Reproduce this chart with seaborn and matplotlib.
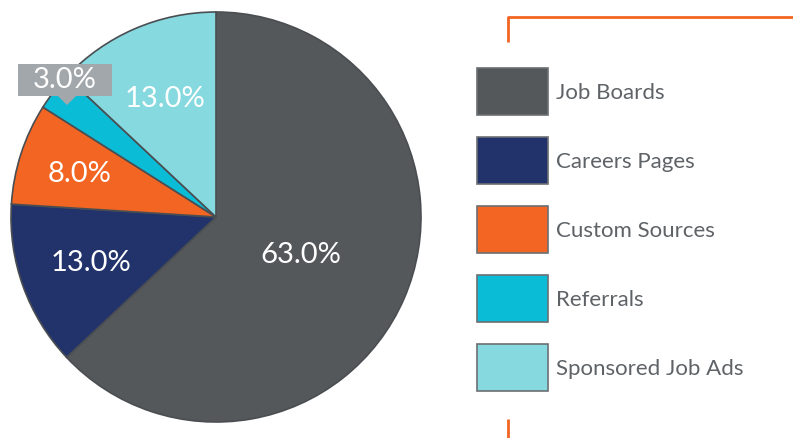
import numpy as np
import matplotlib
matplotlib.use("Agg")
import matplotlib.pyplot as plt
from matplotlib.patches import Polygon, Rectangle
import seaborn as sns

categories = ["Job Boards", "Careers Pages", "Custom Sources", "Referrals", "Sponsored Job Ads"]
shares = [63.0, 13.0, 8.0, 3.0, 13.0]
colors = ["#54585a", "#22336b", "#f26522", "#0abcd6", "#86d9df"]

sns.set_theme(style="white")
plt.rcParams["font.family"] = ["Lato", "DejaVu Sans"]

W, H = 793, 439
fig = plt.figure(figsize=(W / 100, H / 100), dpi=100)
ax = fig.add_axes([0, 0, 1, 1])

cx, cy, R = 216, H - 218, 205
pal = sns.color_palette(colors)
wedges, texts, autotexts = ax.pie(
    shares, colors=pal, startangle=90, counterclock=False,
    center=(cx, cy), radius=R, frame=True,
    autopct="%1.1f%%", pctdistance=0.6,
    wedgeprops=dict(edgecolor="#4a4e52", linewidth=1.2),
    textprops=dict(color="white", fontsize=21),
)
ax.set_xlim(0, W)
ax.set_ylim(0, H)
ax.set_aspect("equal")
ax.axis("off")

label_r = [0.45, 0.65, 0.70, 0.92, 0.63]
for w, t, lr in zip(wedges, autotexts, label_r):
    mid = np.deg2rad((w.theta1 + w.theta2) / 2)
    t.set_position((cx + lr * R * np.cos(mid), cy + lr * R * np.sin(mid)))
    t.set_ha("center")
    t.set_va("center")

# callout for the small slice
small = 3
w = wedges[small]
mid = np.deg2rad((w.theta1 + w.theta2) / 2)
tipx = cx + 0.92 * R * np.cos(mid)
autotexts[small].set_visible(False)
callout = "#a2a7ab"
ax.add_patch(Rectangle((18, H - 97), 94, 32, fc=callout, ec="none", zorder=3))
ax.add_patch(Polygon([[tipx - 9, H - 97], [tipx + 9, H - 97], [tipx, H - 106]],
                     closed=True, fc=callout, ec="none", zorder=3))
ax.text(65, H - 80, autotexts[small].get_text(), ha="center", va="center",
        color="white", fontsize=21, zorder=4)

# legend
leg = ax.legend(wedges, categories, loc="upper left",
                bbox_to_anchor=(477 / W, 1 - 69 / H), frameon=False,
                fontsize=16, handlelength=3.2, handleheight=2.88,
                handletextpad=0.35, labelspacing=0.99, borderpad=0, borderaxespad=0)
for txt in leg.get_texts():
    txt.set_color("#5f6367")
for h in leg.legend_handles:
    h.set_edgecolor("#6b6f73")
    h.set_linewidth(1.2)

# orange decorative bracket
orange = "#f26522"
ax.plot([508, 508, W], [H - 43, H - 18, H - 18], color=orange, lw=2, solid_capstyle="butt")
ax.plot([508, 508], [H - 420, 0], color=orange, lw=2, solid_capstyle="butt")

fig.savefig("out.png", dpi=100)
